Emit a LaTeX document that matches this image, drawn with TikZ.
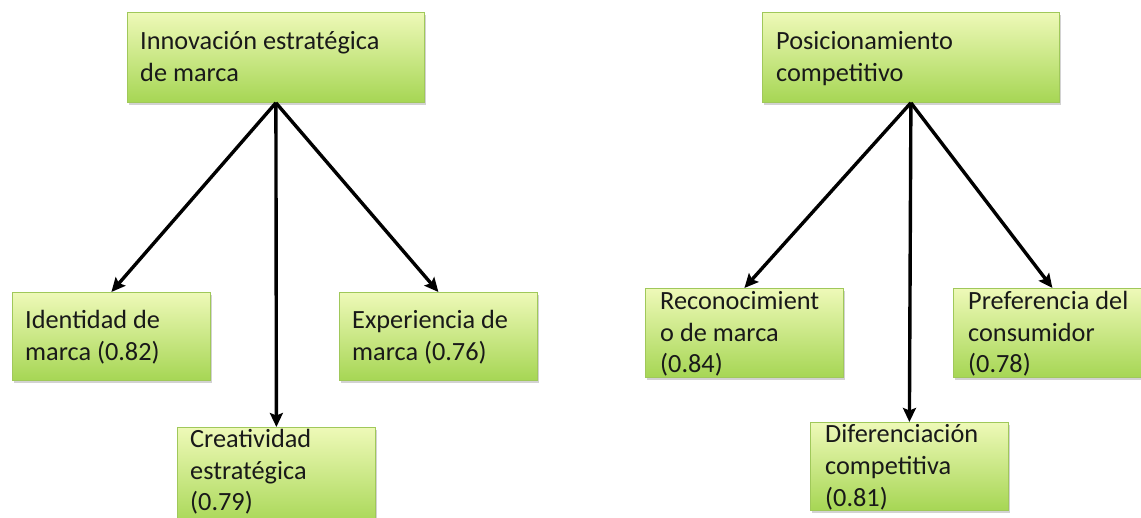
\documentclass[tikz,border=0pt]{standalone}
\usepackage{fontspec}
\setmainfont{Carlito}
\usetikzlibrary{arrows.meta,shadows}
\definecolor{gtop}{RGB}{238,249,184}
\definecolor{gbot}{RGB}{166,214,84}
\definecolor{gborder}{RGB}{160,200,90}
\newcommand\tl[1]{\parbox[t]{400pt}{\raggedright\fontsize{26.3}{31.5}\selectfont #1}}
\begin{document}
\begin{tikzpicture}[x=1pt,y=-1pt,
  box/.style={draw=gborder, line width=0.8pt, top color=gtop, bottom color=gbot,
    drop shadow={shadow xshift=2pt, shadow yshift=-3pt, opacity=0.35},
    anchor=north west, inner sep=0pt, minimum width=198pt, minimum height=88pt},
  wide/.style={box, minimum width=297pt, minimum height=90pt},
  lbl/.style={anchor=base west, inner sep=0pt, text=black!90},
  arr/.style={line width=3.4pt, -{Stealth[length=14pt,width=13pt,inset=2.5pt]}}]
\clip (0,0) rectangle (1141,518);
\fill[white] (0,0) rectangle (1141,518);
% boxes
\node[wide] (a) at (127,12) {};
\node[wide] (b) at (762,12) {};
\node[box] (id) at (12,292) {};
\node[box] (ex) at (339,292) {};
\node[box, minimum height=100pt] (cr) at (177,427) {};
\node[box, minimum height=89pt] (rc) at (645,288) {};
\node[box, minimum height=89pt] (pr) at (953,288) {};
\node[box] (df) at (810,422) {};
% labels
\node[lbl] (ta) at (140,50) {\tl{Innovación estratégica\\de marca}};
\node[lbl] (tb) at (776,50) {\tl{Posicionamiento\\competitivo}};
\node[lbl] (tid) at (25,329) {\tl{Identidad de\\marca (0.82)}};
\node[lbl] (tex) at (352,329) {\tl{Experiencia de\\marca (0.76)}};
\node[lbl] (tcr) at (190,448) {\tl{Creatividad\\estratégica\\(0.79)}};
\node[lbl] (trc) at (660,310) {\tl{Reconocimient\\o de marca\\(0.84)}};
\node[lbl] (tpr) at (968,310) {\tl{Preferencia del\\consumidor\\(0.78)}};
\node[lbl] (tdf) at (825,443) {\tl{Diferenciación\\competitiva\\(0.81)}};
% arrows
\draw[arr] (a.south) -- (id.north);
\draw[arr] (a.south) -- (cr.north);
\draw[arr] (a.south) -- (ex.north);
\draw[arr] (b.south) -- (rc.north);
\draw[arr] (b.south) -- (df.north);
\draw[arr] (b.south) -- (pr.north);
\end{tikzpicture}
\end{document}
